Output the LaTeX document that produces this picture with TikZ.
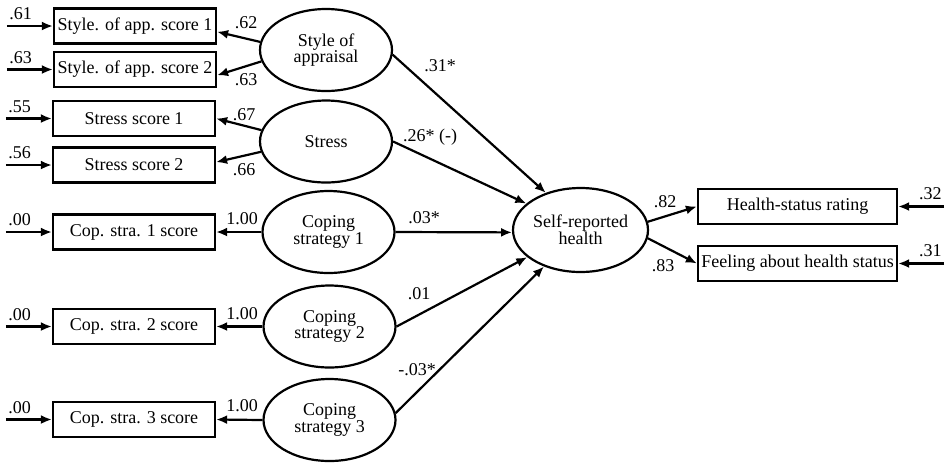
\documentclass[tikz,border=0pt]{standalone}
\usepackage{fontspec}
\setmainfont{Liberation Serif}
\usetikzlibrary{arrows.meta, shapes.geometric}

\begin{document}
\begin{tikzpicture}[x=0.5pt, y=-0.5pt, font=\fontsize{9}{8.3}\selectfont,
		obs/.style={draw, line width=1.1pt, minimum width=81pt, minimum height=17.5pt, inner sep=0pt},
		lat/.style={draw, ellipse, line width=1.1pt, minimum width=66pt, minimum height=41pt, inner sep=0pt, align=center},
		arr/.style={-{Latex[length=5.5pt, width=4.5pt]}, line width=1.1pt},
		lab/.style={inner sep=1.5pt}]
			\useasboundingbox (0,0) rectangle (945,462);
			
			% indicators
			\node[obs] (sa1) at (135,26) {Style. of app. score 1};
			\node[obs] (sa2) at (135,69.5) {Style. of app. score 2};
			\node[obs] (st1) at (134,118.5) {Stress score 1};
			\node[obs] (st2) at (134,165) {Stress score 2};
			\node[obs] (cs1) at (134,232) {Cop. stra. 1 score};
			\node[obs] (cs2) at (134,326.5) {Cop. stra. 2 score};
			\node[obs] (cs3) at (134,419.5) {Cop. stra. 3 score};
			\node[obs, minimum width=99.5pt] (hsr) at (797.5,206.5) {Health-status rating};
			\node[obs, minimum width=99.5pt] (fah) at (797.5,263.5) {Feeling about health status};
			
			% latent variables
			\node[lat] (sty) at (326,50) {Style of\\appraisal};
			\node[lat] (str) at (326,141.5) {Stress};
			\node[lat] (cop1) at (328.5,232) {Coping\\strategy 1};
			\node[lat] (cop2) at (329.5,326.5) {Coping\\strategy 2};
			\node[lat] (cop3) at (329.5,420) {Coping\\strategy 3};
			\node[lat, minimum width=67.5pt, minimum height=42pt] (srh) at (580.5,230) {Self-reported\\health};
			
			% error terms
			\foreach \b/\v in {sa1/.61, sa2/.63, st1/.55, st2/.56, cs1/.00, cs2/.00, cs3/.00}{
				\coordinate (\b-e) at ([xshift=-23pt]\b.west);
				\draw[arr] (\b-e) -- node[lab, pos=0.3, above=1pt] {\v} (\b);
			}
			\foreach \b/\v in {hsr/.32, fah/.31}{
				\coordinate (\b-e) at ([xshift=23pt]\b.east);
				\draw[arr] (\b-e) -- node[lab, pos=0.3, above=1.5pt] {\v} (\b);
			}
			
			% loadings
			\draw[arr] (sty.173) -- (sa1.-4);
			\draw[arr] (sty.190) -- (sa2.-4);
			\draw[arr] (str.170) -- (st1.east);
			\draw[arr] (str.189) -- (st2.2);
			\foreach \i in {1,2,3}{
				\draw[arr] (cop\i.west) -- (cs\i.east);
			}
			\draw[arr] (srh.7) -- (hsr.west);
			\draw[arr] (srh.-7) -- (fah.west);
			
			% structural paths
			\draw[arr] (sty.-4) -- (srh.133);
			\draw[arr] (str.0) -- (srh.154);
			\draw[arr] (cop1.east) -- (srh.182);
			\draw[arr] (cop2.east) -- (srh.207);
			\draw[arr] (cop3.6) -- (srh.225);
			
			% coefficients
			\node[lab] (w-sa1) at (246,23) {.62};
			\node[lab] (w-sa2) at (246,80) {.63};
			\node[lab] (w-st1) at (244,115) {.67};
			\node[lab] (w-st2) at (244,170) {.66};
			\node[lab] (w-cs1) at (242,219) {1.00};
			\node[lab] (w-cs2) at (242,314) {1.00};
			\node[lab] (w-cs3) at (242,406) {1.00};
			\node[lab] (w-hsr) at (665,202) {.82};
			\node[lab] (w-fah) at (663,266) {.83};
			\node[lab] (b-sty) at (440,66) {.31*};
			\node[lab] (b-str) at (430,137) {.26* (-)};
			\node[lab] (b-cop1) at (424,218) {.03*};
			\node[lab] (b-cop2) at (419,294) {.01};
			\node[lab] (b-cop3) at (417,370) {-.03*};
		\end{tikzpicture}
\end{document}
